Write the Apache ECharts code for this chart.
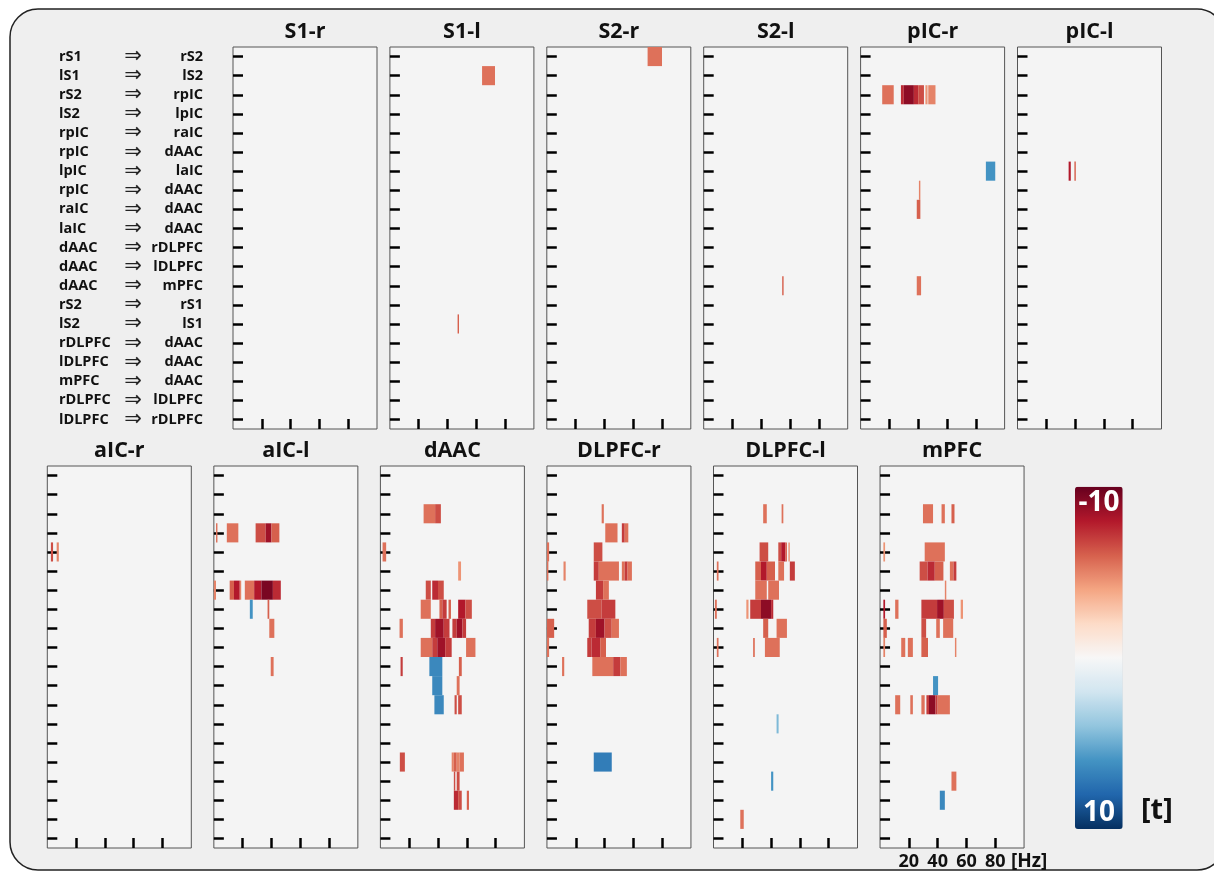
<!DOCTYPE html>
<html><head><meta charset="utf-8">
<script src="https://cdn.jsdelivr.net/npm/echarts@6/dist/echarts.min.js"></script>
<style>html,body{margin:0;padding:0;background:#fff}#c{width:1214px;height:873px}</style>
</head><body><div id="c"></div>
<script>
// ---- data ----
const sources = ['rS1','lS1','rS2','lS2','rpIC','rpIC','lpIC','rpIC','raIC','laIC','dAAC','dAAC','dAAC','rS2','lS2','rDLPFC','lDLPFC','mPFC','rDLPFC','lDLPFC'];
const targets = ['rS2','lS2','rpIC','lpIC','raIC','dAAC','laIC','dAAC','dAAC','dAAC','rDLPFC','lDLPFC','mPFC','rS1','lS1','dAAC','dAAC','dAAC','lDLPFC','rDLPFC'];
const panelNames = ['S1-r','S1-l','S2-r','S2-l','pIC-r','pIC-l','aIC-r','aIC-l','dAAC','DLPFC-r','DLPFC-l','mPFC'];
const freqTicks = [20,40,60,80];
const colorbarLabels = ['-10','10'];
// each cell run: [startHz, endHz, rowIndex, t]
const S1_r = [];
const S1_l = [[64,73,1,-5.5],[47,48,14,-6]];
const S2_r = [[70,80,0,-5.5]];
const S2_l = [[54.5,55.5,12,-6]];
const pIC_r = [[15,23,2,-5.5],[28,30,2,-7.5],[30,37,2,-9],[37,40,2,-7.5],[40,44,2,-6.5],[45,46.5,2,-4.5],[47,52,2,-5],
  [87,93.5,6,6],[40.5,41.5,7,-5],[39,41.5,8,-6],[39,42,12,-5.5]];
const pIC_l = [[35.5,37,6,-8],[39.5,40.5,6,-6]];
const aIC_r = [[2.5,4,4,-6.5],[6.5,8,4,-5]];
const aIC_l = [[1.5,2.5,3,-5.5],[9,17,3,-5.5],[29,36,3,-6.5],[36,40,3,-8.5],[40,45.5,3,-6],
  [0,1.5,6,-5],[11,14,6,-6],[14,18,6,-8],[18,19,6,-5],[21.5,28,6,-5.5],[28,33,6,-8],[33,41,6,-9.5],[41,46.5,6,-7.5],
  [25,27,7,6],[37.3,38.5,7,-6],[38.5,42,8,-5.5],[39.5,41.5,10,-5.5]];
const dAAC = [[30,38,2,-5.5],[38,42,2,-6.5],
  [1.5,4,4,-5.5],[54,56,5,-4.5],
  [31.5,35,6,-6.5],[36,40,6,-7.5],[40,44,6,-6.5],
  [28,35,7,-5.5],[41,43,7,-6],[43,46,7,-7],[47.3,49,7,-6],[54,59,7,-8],[59,63.5,7,-6.5],
  [13.3,15.6,8,-5.5],[35,38,8,-7],[38,44,8,-8.5],[44,48,8,-7],[50,53,8,-7],[53,57,8,-8.5],[57,59.5,8,-7],
  [28,36,9,-5.5],[36,39.5,9,-7],[39.5,45,9,-8.5],[45,49.5,9,-7],[59.5,66,9,-5.5],
  [14,15.5,10,-7],[34,43,10,6.5],[54.5,56.5,10,-6],
  [36,43,11,6.5],[53,55,11,-5.5],
  [37.5,44,12,6.5],[51.5,53,12,-6.5],[54,56.5,12,-6.5],
  [13.5,17,15,-6.5],[49.5,51,15,-5],[51,53,15,-6],[53,55,15,-5],[55,58,15,-5.5],
  [51,52,16,-6.5],[53,55,16,-6.5],
  [51,54,17,-7.5],[54,56.5,17,-6.5],[60,61.5,17,-6]];
const DLPFC_r = [[38,39.5,2,-5.5],
  [40.5,49,3,-5.5],[52,54,3,-7],[54,56.5,3,-5.5],
  [0,1.5,4,-5.5],[32.5,38.5,4,-6.5],
  [0,1,5,-5.5],[11.5,13,5,-5],[32.5,36,5,-7],[36,50,5,-5.5],[52,54,5,-5.5],[54,56,5,-7],[56,59,5,-5.5],
  [34,39,6,-7],[39,43,6,-5.5],
  [28,38,7,-6.5],[38,47.5,7,-7],
  [0,5,8,-6],[29,34,8,-7],[34,40,8,-8.5],[40,45,8,-6.5],[45,50,8,-5.5],
  [0,1.5,9,-5.5],[28,31,9,-7],[31,37,9,-7.5],[37,41,9,-6],
  [10.5,12,10,-5.5],[31.5,46,10,-5.5],[46,51,10,-7],[51,55.5,10,-5.5],
  [32.5,45,15,7]];
const DLPFC_l = [[34.5,37,2,-5.5],[47.3,48.5,2,-5.5],
  [32,38,4,-6.5],[45,47,4,-6.5],[47,50,4,-8],[50,51,4,-6],[52,53,4,-4.5],
  [2.3,3.5,5,-5.5],[29,33,5,-6],[33,37,5,-8],[37,42.7,5,-6],[45,49,5,-5.5],[53,56.5,5,-7],
  [29,37,6,-5.5],[38,45.5,6,-5.5],
  [1,2.3,7,-5.5],[22.8,24.3,7,-4.5],[25.5,33,7,-7],[33,40,7,-9],[40,41.5,7,-7.5],
  [34.5,38,8,-6],[43.8,51,8,-5.5],
  [2.3,3.5,9,-5.5],[27.5,28.7,9,-5.5],[35.7,46,9,-5.5],
  [43.8,45.2,13,4.5],[40,41.5,16,6],[18.6,21,18,-5.5]];
const mPFC = [[29.8,36.8,2,-5.5],[42.7,45,2,-5.5],[49.6,51.7,2,-6],
  [2.3,3.5,4,-4.5],[31,45,4,-5.5],
  [27.5,33,5,-6.5],[33,38,5,-7.5],[38,44,5,-6],[48.5,51,5,-5.5],[51,53,5,-7],
  [45,46,6,-5],
  [2.3,3.5,7,-8],[10.5,12.8,7,-5.5],[28.7,39.6,7,-7],[39.6,44.3,7,-8.5],[44.3,51.3,7,-6.5],[56,57.6,7,-4.5],
  [2.3,4.7,8,-6],[28.7,32,8,-6.5],[39,41.5,8,-5.5],[43.8,50.8,8,-5.5],
  [2.3,3.5,9,-5],[14.7,17.5,9,-5.5],[19.3,22.8,9,-5.5],[28.7,33.3,9,-6],[52,53,9,-5],
  [36.8,40.3,11,6],
  [10.5,14,12,-5.5],[21,22.8,12,-5.5],[28.7,31,12,-5.5],[32.2,34,12,-7],[34,38.5,12,-9],[38.5,40,12,-7],[40,48.5,12,-5.5],
  [49.6,53,16,-5.5],[41.5,45,17,6.5]];
const panelData = [S1_r,S1_l,S2_r,S2_l,pIC_r,pIC_l,aIC_r,aIC_l,dAAC,DLPFC_r,DLPFC_l,mPFC];

// ---- layout ----
const FONT = "'Open Sans', 'DejaVu Sans', sans-serif";
const W = 144, H = 382;
const pos = [];
for (let i = 0; i < 6; i++) pos.push([233 + i * 156.9, 47]);
for (let i = 0; i < 6; i++) pos.push([47.3 + i * 166.55, 466]);
const rowCats = sources.map((s, i) => s + '⇒' + targets[i]);

const grids = [], xAxes = [], yAxes = [], series = [], graphics = [];
graphics.push({type:'rect', z:-10, shape:{x:10, y:9, width:1215, height:861, r:28},
  style:{fill:'#efefef', stroke:'#222', lineWidth:1.5}});
panelData.forEach((d, i) => {
  const [l, t] = pos[i];
  grids.push({left:l, top:t, width:W, height:H, show:true, backgroundColor:'#f4f4f4', borderColor:'#555', borderWidth:1});
  xAxes.push({gridIndex:i, type:'value', min:0, max:100,
    axisLine:{show:false}, splitLine:{show:false},
    axisTick:{show:true, inside:true, length:10, customValues:freqTicks, lineStyle:{color:'#000', width:2.5}},
    axisLabel:{show: i === 11, customValues:freqTicks, margin:5, color:'#111', fontSize:18, fontWeight:'bold', fontFamily:FONT}});
  yAxes.push({gridIndex:i, type:'category', data:rowCats, inverse:true,
    axisLine:{show:false}, splitLine:{show:false},
    axisTick:{show:true, inside:true, interval:0, alignWithLabel:true, length:10, lineStyle:{color:'#000', width:2.5}},
    axisLabel:{show: i === 0, interval:0, margin:30,
      formatter: v => { const p = v.split('⇒'); return '{a|' + p[0] + '}{b|⇒}{c|' + p[1] + '}'; },
      rich:{
        a:{width:64, align:'left', fontSize:14.5, fontWeight:'bold', fontFamily:FONT, color:'#111'},
        b:{width:20, align:'center', fontSize:21, fontFamily:"'DejaVu Sans', sans-serif", color:'#222'},
        c:{width:60, align:'right', fontSize:14.5, fontWeight:'bold', fontFamily:FONT, color:'#111'}
      }}});
  series.push({type:'custom', xAxisIndex:i, yAxisIndex:i, clip:true,
    encode:{x:[0,1], y:2}, data:d,
    renderItem:(params, api) => {
      const a = api.coord([api.value(0), api.value(2)]);
      const b = api.coord([api.value(1), api.value(2)]);
      const h = api.size([0, 1])[1];
      return {type:'rect', shape:{x:a[0], y:a[1] - h / 2, width:Math.max(b[0] - a[0], 1), height:h},
        style:{fill:api.visual('color')}};
    }});
  graphics.push({type:'text', z:100, x:l + W / 2, y:t - 15,
    style:{text:panelNames[i], align:'center', verticalAlign:'middle', fill:'#111',
      font:"bold 21.5px " + FONT}});
});
graphics.push({type:'text', z:100, x:1099, y:503, style:{text:colorbarLabels[0], align:'center', verticalAlign:'middle', fill:'#fff', font:'bold 28px ' + FONT}});
graphics.push({type:'text', z:100, x:1099, y:813, style:{text:colorbarLabels[1], align:'center', verticalAlign:'middle', fill:'#fff', font:'bold 28px ' + FONT}});
graphics.push({type:'text', z:100, x:1141, y:811, style:{text:'[t]', align:'left', verticalAlign:'middle', fill:'#111', font:'bold 29px ' + FONT}});
graphics.push({type:'text', z:100, x:1011, y:862, style:{text:'[Hz]', align:'left', verticalAlign:'middle', fill:'#111', font:'bold 19px ' + FONT}});

const chart = echarts.init(document.getElementById('c'), null, {renderer:'canvas'});
chart.setOption({
  backgroundColor:'#ffffff',
  animation:false,
  grid:grids, xAxis:xAxes, yAxis:yAxes, series:series,
  visualMap:{type:'continuous', min:-10, max:10, dimension:3, seriesIndex:series.map((s, i) => i),
    orient:'vertical', inverse:true, left:1075, top:486.7, itemWidth:47.7, itemHeight:342.3,
    padding:0, calculable:false, hoverLink:false, text:null, showLabel:false,
    inRange:{color:['#67001f','#b2182b','#d6604d','#f4a582','#fddbc7','#f7f7f7','#d1e5f0','#92c5de','#4393c3','#2166ac','#053061']}},
  graphic:graphics
});
</script></body></html>
